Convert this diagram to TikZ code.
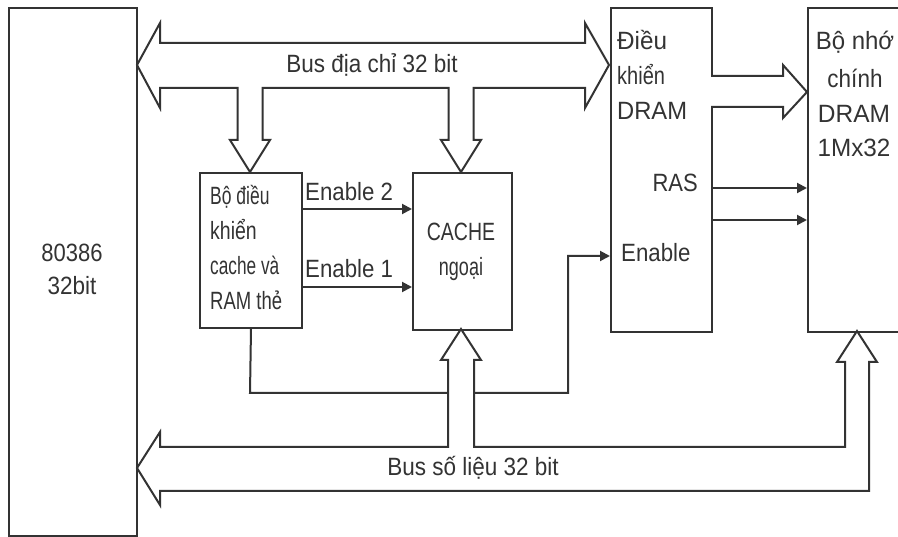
\documentclass[tikz,border=0pt]{standalone}
\usepackage{fontspec}
\setmainfont{Liberation Sans}
\usetikzlibrary{arrows.meta}
\definecolor{ink}{HTML}{333333}
\newcommand\sx[2]{\scalebox{#1}[1]{#2}}
\begin{document}
\begin{tikzpicture}[x=1pt,y=-1pt,
  box/.style={draw=ink, line width=2pt, rectangle, anchor=north west, inner sep=0pt},
  lbl/.style={inner sep=0pt, text=ink, font=\fontsize{25}{30}\selectfont},
  sig/.style={draw=ink, line width=2pt, -{Triangle[length=10pt,width=10pt]}},
  wire/.style={draw=ink, line width=2pt},
  bus/.style={draw=ink, line width=2pt, fill=white, line join=miter},
]
\useasboundingbox (0,0) rectangle (898,537);
\clip (0,0) rectangle (898,537);

% boxes
\node[box, minimum width=128pt, minimum height=528pt] (cpu) at (8,7) {};
\node[box, minimum width=102pt, minimum height=155pt] (ctl) at (199,172) {};
\node[box, minimum width=99pt, minimum height=157pt] (cache) at (412,172) {};
\node[box, minimum width=101pt, minimum height=324pt] (dctl) at (610,7) {};
\node[box, minimum width=130pt, minimum height=324pt] (mem) at (807,7) {};

% texts
\node[lbl, anchor=base] (t80386) at (72,262) {\sx{0.88}{80386}};
\node[lbl, anchor=base] (t32bit) at (72,295) {\sx{0.9}{32bit}};

\node[lbl, anchor=base west] (c1) at (210,205) {\sx{0.7}{Bộ điều}};
\node[lbl, anchor=base west] (c2) at (210,240) {\sx{0.78}{khiển}};
\node[lbl, anchor=base west] (c3) at (210,275) {\sx{0.69}{cache và}};
\node[lbl, anchor=base west] (c4) at (210,310) {\sx{0.74}{RAM thẻ}};

\node[lbl, anchor=base] (k1) at (461,241) {\sx{0.78}{CACHE}};
\node[lbl, anchor=base] (k2) at (461,276) {\sx{0.72}{ngoại}};

\node[lbl, anchor=base west] (en2) at (305,201) {\sx{0.89}{Enable 2}};
\node[lbl, anchor=base west] (en1) at (305,278) {\sx{0.89}{Enable 1}};

\node[lbl, anchor=base west] (d1) at (617,50) {\sx{0.97}{Điều}};
\node[lbl, anchor=base west] (d2) at (617,85) {\sx{0.8}{khiển}};
\node[lbl, anchor=base west] (d3) at (617,120) {\sx{0.95}{DRAM}};
\node[lbl, anchor=base east] (ras) at (698,192) {\sx{0.88}{RAS}};
\node[lbl, anchor=base west] (den) at (621,262) {\sx{0.89}{Enable}};

\node[lbl, anchor=base] (m1) at (855,50) {\sx{0.96}{Bộ nhớ}};
\node[lbl, anchor=base] (m2) at (855,88) {\sx{0.9}{chính}};
\node[lbl, anchor=base] (m3) at (854,123) {\sx{0.98}{DRAM}};
\node[lbl, anchor=base] (m4) at (854,157) {\sx{0.97}{1Mx32}};

% signal connectors
\coordinate (ye2) at (0,209);
\coordinate (ye1) at (0,287);
\coordinate (yras) at (0,188);
\coordinate (ycas) at (0,220);
\coordinate (yen) at (0,256);
\coordinate (b1) at (250,393);
\coordinate (b2) at (568,393);
\coordinate (b3) at (568,256);
\draw[sig] (ctl.east |- ye2) -- (cache.west |- ye2);
\draw[sig] (ctl.east |- ye1) -- (cache.west |- ye1);
\draw[sig] (dctl.east |- yras) -- (mem.west |- yras);
\draw[sig] (dctl.east |- ycas) -- (mem.west |- ycas);
\draw[sig] (ctl.south) -- (b1) -- (b2) -- (b3) -- (dctl.west |- yen);

% address bus
\draw[bus] (137,65) -- (160,23) -- (160,43) -- (585,43) -- (585,23) -- (609,65)
  -- (585,108) -- (585,88) -- (473.5,88) -- (473.5,140) -- (481,140) -- (461,172)
  -- (441,140) -- (448.5,140) -- (448.5,88) -- (262.5,88) -- (262.5,140) -- (270,140)
  -- (250,172) -- (230,140) -- (237.5,140) -- (237.5,88) -- (160,88) -- (160,108) -- cycle;
\node[lbl, anchor=base] (abus) at (372,73) {\sx{0.9}{Bus địa chỉ 32 bit}};

% data bus
\draw[bus] (137,468) -- (160,432) -- (160,447) -- (448,447) -- (448,360) -- (441,360)
  -- (461,329) -- (481,360) -- (474,360) -- (474,447) -- (845,447) -- (845,362)
  -- (837,362) -- (857,331) -- (877,362) -- (869,362) -- (869,491) -- (160,491)
  -- (160,505) -- cycle;
\node[lbl, anchor=base] (dbus) at (473,476) {\sx{0.9}{Bus số liệu 32 bit}};

% DRAM controller to memory
\draw[bus] (711,76) -- (783,76) -- (783,65) -- (807,92) -- (783,118) -- (783,107) -- (711,107);
\end{tikzpicture}
\end{document}
